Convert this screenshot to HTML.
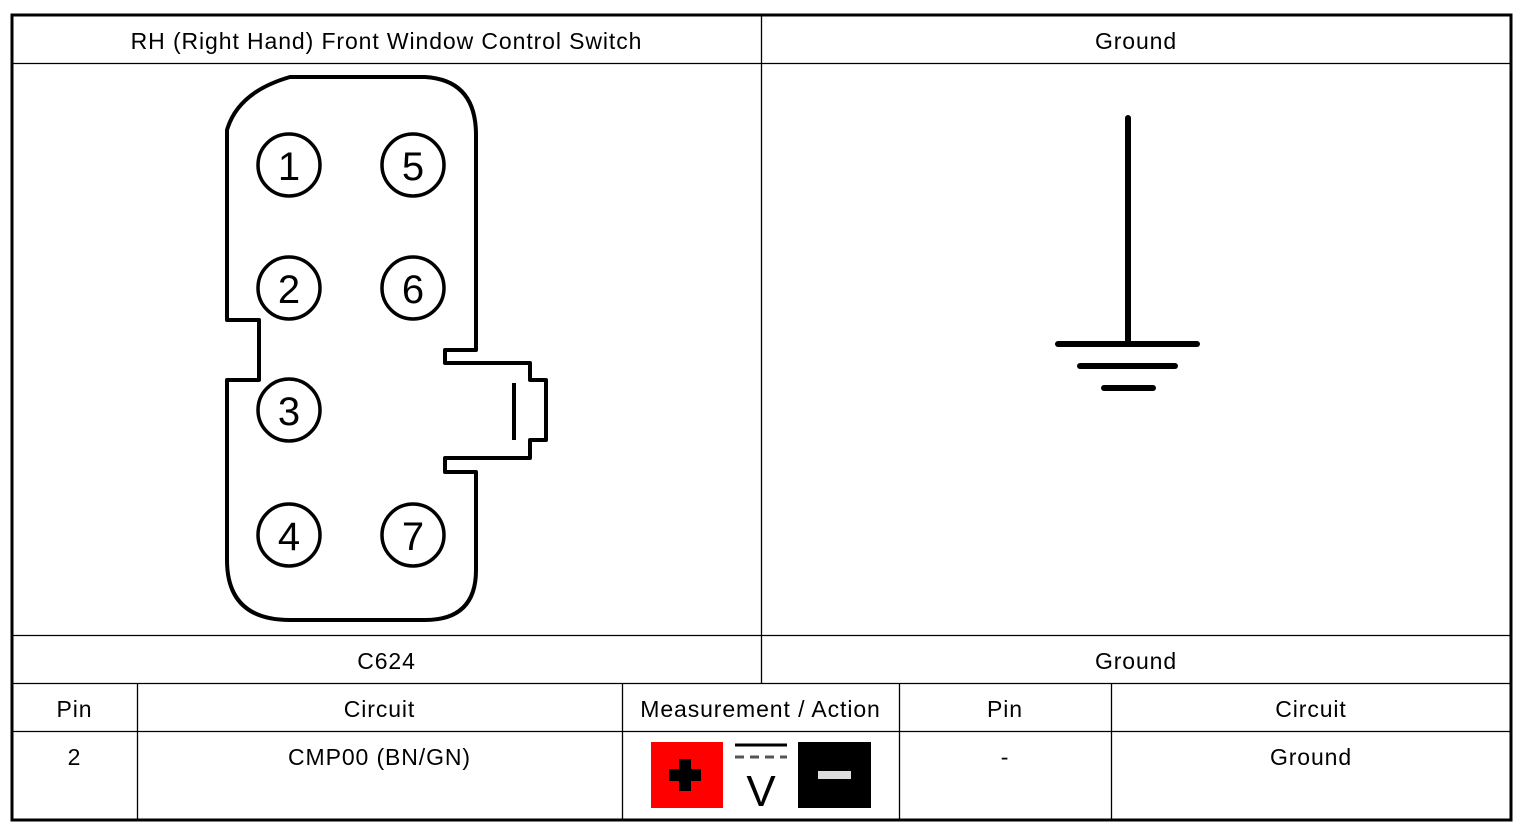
<!DOCTYPE html>
<html><head><style>
body{margin:0;background:#fff;width:1526px;height:830px;overflow:hidden;font-family:"Liberation Sans",sans-serif;}
.t{position:absolute;font-size:23px;letter-spacing:0.9px;color:#000;text-align:center;}
</style></head><body>
<svg width="1526" height="830" style="position:absolute;left:0;top:0">
<rect x="12" y="15" width="1499" height="805" fill="none" stroke="#000" stroke-width="3"/>
<g stroke="#000" stroke-width="1.3">
<line x1="12" y1="63.5" x2="1511" y2="63.5"/>
<line x1="12" y1="635.5" x2="1511" y2="635.5"/>
<line x1="12" y1="683.5" x2="1511" y2="683.5"/>
<line x1="12" y1="731.5" x2="1511" y2="731.5"/>
<line x1="761.5" y1="15" x2="761.5" y2="683"/>
<line x1="137.5" y1="683" x2="137.5" y2="820"/>
<line x1="622.5" y1="683" x2="622.5" y2="820"/>
<line x1="899.5" y1="683" x2="899.5" y2="820"/>
<line x1="1111.5" y1="683" x2="1111.5" y2="820"/>
</g>
<path d="M227,320 V130 Q238,92 290,77 H425 Q476,80 476,135 V350 H445 V363 H530 V380 H546 V440 H530 V458 H445 V472 H476 V570 Q476,620 425,620 H290 Q227,620 227,560 V380 H259 V320 Z" fill="none" stroke="#000" stroke-width="4" stroke-linejoin="round"/>
<line x1="514" y1="383" x2="514" y2="440" stroke="#000" stroke-width="4"/>
<g fill="none" stroke="#000" stroke-width="3.5">
<circle cx="289" cy="165" r="31"/><circle cx="413" cy="165" r="31"/>
<circle cx="289" cy="288" r="31"/><circle cx="413" cy="288" r="31"/>
<circle cx="289" cy="410" r="31"/>
<circle cx="289" cy="535" r="31"/><circle cx="413" cy="535" r="31"/>
</g>
<g font-family="Liberation Sans" font-size="40" text-anchor="middle">
<text x="289" y="180">1</text><text x="413" y="180">5</text>
<text x="289" y="303">2</text><text x="413" y="303">6</text>
<text x="289" y="425">3</text>
<text x="289" y="550">4</text><text x="413" y="550">7</text>
</g>
<g stroke="#000" stroke-width="6" stroke-linecap="round">
<line x1="1128" y1="118" x2="1128" y2="343"/>
<line x1="1058" y1="344" x2="1197" y2="344"/>
<line x1="1080" y1="366" x2="1175" y2="366"/>
<line x1="1104" y1="388" x2="1153" y2="388"/>
</g>
<rect x="651" y="742" width="72" height="66" fill="#f00"/>
<rect x="669" y="769" width="32" height="12" fill="#000"/>
<rect x="679" y="759" width="12" height="32" fill="#000"/>
<line x1="735" y1="745" x2="787" y2="745" stroke="#000" stroke-width="3"/>
<line x1="735" y1="757" x2="787" y2="757" stroke="#555" stroke-width="3" stroke-dasharray="9,6"/>
<text x="761" y="806" font-family="Liberation Sans" font-size="44" text-anchor="middle">V</text>
<rect x="798" y="742" width="73" height="66" fill="#000"/>
<rect x="818" y="771" width="33" height="8" fill="#ddd"/>
</svg>
<div class="t" style="left:12px;width:749px;top:28px">RH (Right Hand) Front Window Control Switch</div>
<div class="t" style="left:761px;width:750px;top:28px">Ground</div>
<div class="t" style="left:12px;width:749px;top:648px">C624</div>
<div class="t" style="left:761px;width:750px;top:648px">Ground</div>
<div class="t" style="left:12px;width:125px;top:696px">Pin</div>
<div class="t" style="left:137px;width:485px;top:696px">Circuit</div>
<div class="t" style="left:622px;width:277px;top:696px">Measurement / Action</div>
<div class="t" style="left:899px;width:212px;top:696px">Pin</div>
<div class="t" style="left:1111px;width:400px;top:696px">Circuit</div>
<div class="t" style="left:12px;width:125px;top:744px">2</div>
<div class="t" style="left:137px;width:485px;top:744px">CMP00 (BN/GN)</div>
<div class="t" style="left:899px;width:212px;top:744px">-</div>
<div class="t" style="left:1111px;width:400px;top:744px">Ground</div>
</body></html>
